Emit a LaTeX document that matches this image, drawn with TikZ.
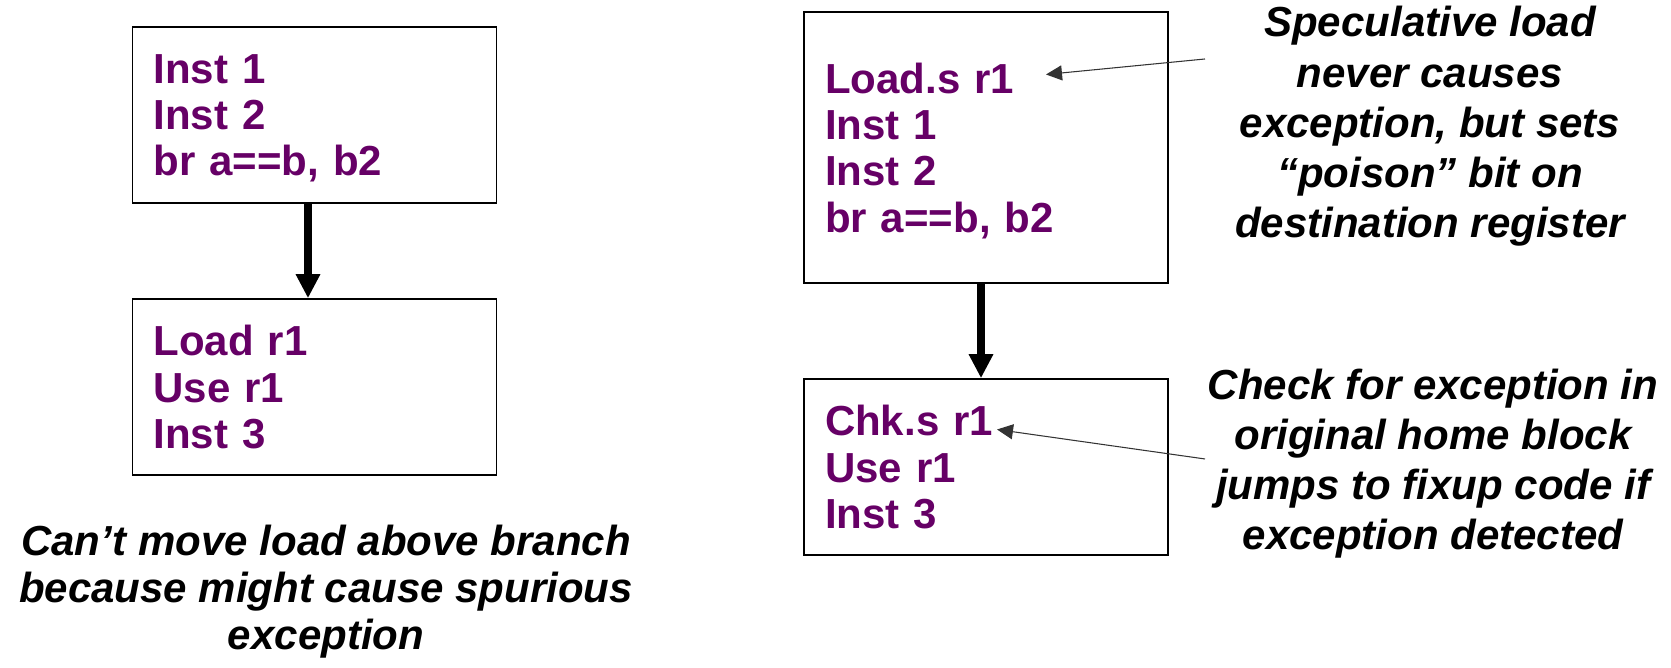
\documentclass[tikz,border=0pt]{standalone}
\usepackage{fontspec}
\setmainfont{Liberation Sans}
\usepackage{tikz}
\usetikzlibrary{arrows.meta}
\definecolor{instpurple}{RGB}{102,0,102}

\begin{document}
\begin{tikzpicture}[
        block/.style={draw=black, line width=0.45pt, inner xsep=0.21cm, inner ysep=0pt,
                text width=3.22cm, align=left, text depth=26.4pt, minimum height=1.76cm,
                text=instpurple, font=\fontsize{11.95}{13.2}\selectfont\bfseries},
        remark/.style={align=center, inner sep=0pt, text=black},
        flow/.style={line width=2pt, -{Triangle[length=0.24cm, width=0.23cm]}},
        pointer/.style={line width=0.3pt, draw=black!80, -{Triangle[length=0.16cm, width=0.15cm]}}
    ]
        \useasboundingbox (0,0) rectangle (16.71,6.68);
        \coordinate (spectip) at (10.46,5.935);
        \coordinate (spectail) at (12.05,6.09);
        \coordinate (chktip) at (9.97,2.385);
        \coordinate (chktail) at (12.05,2.09);
        \node[block] (A) at (3.145,5.53) {Inst 1\\Inst 2\\br a==b, b2};
        \node[block] (B) at (3.145,2.81) {Load r1\\Use r1\\Inst 3};
        \node[block, minimum height=2.71cm, text depth=39.6pt] (C) at (9.86,5.205) {Load.s r1\\Inst 1\\Inst 2\\br a==b, b2};
        \node[block] (D) at (9.86,2.01) {Chk.s r1\\Use r1\\Inst 3};
        \draw[flow] ([xshift=-0.065cm]A.south) -- ([xshift=-0.065cm]B.north);
        \draw[flow] ([xshift=-0.05cm]C.south) -- ([xshift=-0.05cm]D.north);
        \node[remark, font=\fontsize{11.95}{13.4}\selectfont\bfseries\itshape] (W) at (3.26,0.76)
                {Can’t move load above branch\\because might cause spurious\\exception};
        \node[remark, font=\fontsize{11.95}{14.3}\selectfont\bfseries\itshape] (S) at (14.30,5.414)
                {Speculative load\\never causes\\exception, but sets\\“poison” bit on\\destination register};
        \node[remark, font=\fontsize{11.95}{14.2}\selectfont\bfseries\itshape] (K) at (14.33,2.04)
                {Check for exception in\\original home block\\jumps to fixup code if\\exception detected};
        \draw[pointer] (spectail) -- (spectip);
        \draw[pointer] (chktail) -- (chktip);
    \end{tikzpicture}
\end{document}
